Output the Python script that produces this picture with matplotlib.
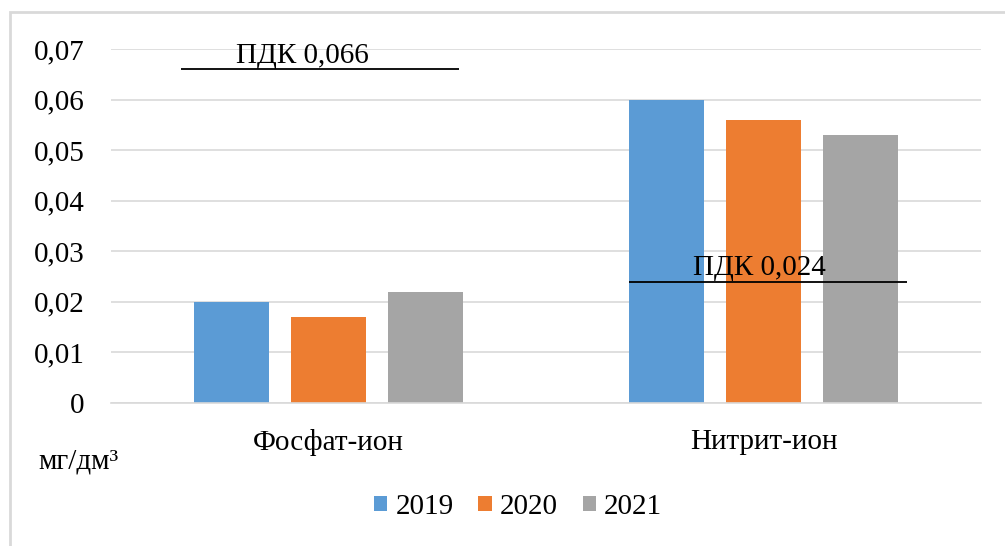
import matplotlib.pyplot as plt
import numpy as np
from matplotlib.patches import Rectangle

categories = ["Фосфат-ион", "Нитрит-ион"]
years = ["2019", "2020", "2021"]
values = {
    "2019": [0.020, 0.060],
    "2020": [0.017, 0.056],
    "2021": [0.022, 0.053],
}
pdk_labels = ["ПДК 0,066", "ПДК 0,024"]
pdk_values = [0.066, 0.024]
yticks = [0, 0.01, 0.02, 0.03, 0.04, 0.05, 0.06, 0.07]
ytick_labels = ["0", "0,01", "0,02", "0,03", "0,04", "0,05", "0,06", "0,07"]

colors = ["#5B9BD5", "#ED7D31", "#A5A5A5"]

plt.rcParams["font.family"] = ["Liberation Serif", "DejaVu Serif"]
FS = 21

W, H = 1005, 546
fig = plt.figure(figsize=(W / 100, H / 100), dpi=100)
fig.patches.append(Rectangle((10 / W, -0.1), 1.2, 1 - 12 / H + 0.1,
                             transform=fig.transFigure, fill=False,
                             edgecolor="#d9d9d9", lw=2))

ax = fig.add_axes([111 / W, 1 - 403 / H, 870 / W, 354 / H])
x = np.arange(len(categories))
width = 0.172
step = 0.223
for i, (yr, c) in enumerate(zip(years, colors)):
    ax.bar(x + (i - 1) * step, values[yr], width, color=c, label=yr, zorder=2)

# limit lines with their captions
line_span = [(-0.34, 0.30), (-0.31, 0.33)]
text_dx = [-0.06, -0.01]
for xc, lab, v, (l, r), dx in zip(x, pdk_labels, pdk_values, line_span, text_dx):
    ax.hlines(v, xc + l, xc + r, color="black", lw=1.3, zorder=3)
    ax.text(xc + dx, v + 0.0013, lab, ha="center", va="baseline",
            fontsize=FS, zorder=4)

ax.set_xlim(-0.5, 1.5)
ax.set_ylim(0, 0.07)
ax.set_yticks(yticks)
ax.set_yticklabels(ytick_labels)
ax.set_xticks(x)
ax.set_xticklabels(categories)
ax.tick_params(axis="y", length=0, pad=19, labelsize=FS)
ax.tick_params(axis="x", length=0, pad=19, labelsize=FS)
ax.grid(axis="y", color="#d9d9d9", lw=1.2, zorder=0)
for s in ["left", "right", "top"]:
    ax.spines[s].set_visible(False)
ax.spines["bottom"].set_color("#d9d9d9")
ax.spines["bottom"].set_linewidth(1.2)

fig.text(38 / W, 1 - 462 / H, "мг/дм³", fontsize=FS, va="center", ha="left")

fig.legend(loc="center", bbox_to_anchor=(518 / W, 1 - 507 / H), ncol=3,
           frameon=False, fontsize=FS, handlelength=0.45, handleheight=0.45,
           handletextpad=0.28, columnspacing=0.85)

fig.savefig("out.png", dpi=100)
